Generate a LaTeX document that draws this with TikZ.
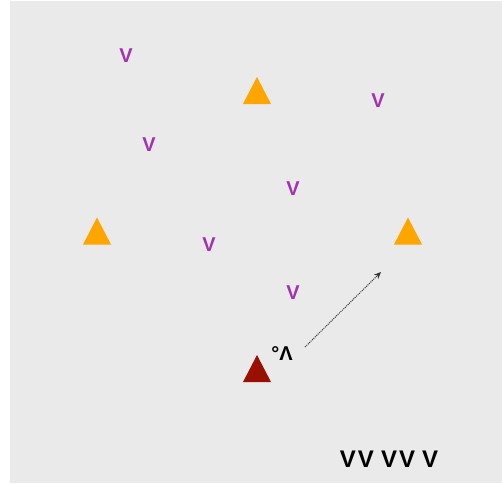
\documentclass[tikz,border=0pt]{standalone}
\usepackage{fontspec}
\setmainfont{Liberation Sans}
\usetikzlibrary{arrows.meta}
\definecolor{bg}{HTML}{EAEAEA}
\definecolor{tri}{HTML}{FFA500}
\definecolor{darktri}{HTML}{990F02}
\definecolor{vcol}{HTML}{A332B3}
\tikzset{
  vmark/.style={text=vcol, inner sep=0pt, font=\fontsize{20}{22}\selectfont\bfseries},
  trishape/.style={minimum width=28pt, minimum height=27pt, inner sep=0pt,
    path picture={\fill[#1] (path picture bounding box.south west) -- (path picture bounding box.south east) -- (path picture bounding box.north) -- cycle;}},
  lbl/.style={text=black, inner sep=0pt, font=\fontsize{20}{22}\selectfont\bfseries},
  dotarrow/.style={densely dotted, line width=1pt, draw=black!80, -{Stealth[length=7pt,width=6pt]}}
}
\begin{document}
\begin{tikzpicture}[x=1pt,y=-1pt]
\useasboundingbox (0,0) rectangle (502,483);
\fill[bg] (10,1) rectangle (502,483);
\node[vmark] (v1) at (126,56) {V};
\node[vmark] (v2) at (378,101) {V};
\node[vmark] (v3) at (149,145) {V};
\node[vmark] (v4) at (293,189) {V};
\node[vmark] (v5) at (209,245) {V};
\node[vmark] (v6) at (293,293) {V};
\node[trishape=tri] (t1) at (257,90.5) {};
\node[trishape=tri] (t2) at (97,231) {};
\node[trishape=tri] (t3) at (408,231) {};
\node[trishape=darktri] (t4) at (257,368.5) {};
\node[lbl] (lab) at (282,354) {°Λ};
\coordinate (a1) at (305,347);
\coordinate (a2) at (381,272);
\draw[dotarrow] (a1) -- (a2);
\node[inner sep=0pt, font=\fontsize{24}{26}\selectfont\bfseries] (bot) at (389,459) {V\kern2pt V\kern7pt V\kern2pt V\kern7pt V};
\end{tikzpicture}
\end{document}
